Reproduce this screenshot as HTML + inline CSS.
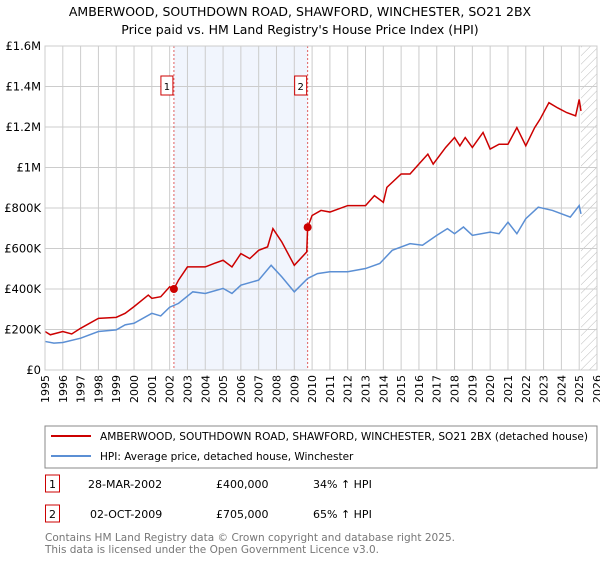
<!DOCTYPE html>
<html><head><meta charset="utf-8"><style>
body{margin:0;background:#fff;font-family:"DejaVu Sans","Liberation Sans",sans-serif;}
svg text{font-family:"DejaVu Sans","Liberation Sans",sans-serif;}
</style></head><body>
<svg id="c" width="600" height="560" xmlns="http://www.w3.org/2000/svg">
<defs><pattern id="hatch" width="6" height="6" patternUnits="userSpaceOnUse" patternTransform="rotate(45)"><line x1="0" y1="0" x2="0" y2="6" stroke="#bbb" stroke-width="1"/></pattern></defs>
<text x="300" y="16" font-size="12.5" text-anchor="middle">AMBERWOOD, SOUTHDOWN ROAD, SHAWFORD, WINCHESTER, SO21 2BX</text>
<text x="300" y="34" font-size="12.5" text-anchor="middle">Price paid vs. HM Land Registry's House Price Index (HPI)</text>
<g id="plot"></g>
<rect x="45" y="426" width="552" height="42" fill="#fff" stroke="#888"/>
<line x1="51" y1="436" x2="91" y2="436" stroke="#cc0000" stroke-width="2"/>
<text x="100" y="440" font-size="10.5" textLength="488" lengthAdjust="spacingAndGlyphs">AMBERWOOD, SOUTHDOWN ROAD, SHAWFORD, WINCHESTER, SO21 2BX (detached house)</text>
<line x1="51" y1="456" x2="91" y2="456" stroke="#5b8fd4" stroke-width="2"/>
<text x="100" y="460" font-size="10.5">HPI: Average price, detached house, Winchester</text>
<rect x="45.5" y="475" width="14" height="17" fill="#fff" stroke="#cc0000"/>
<text x="52.5" y="488" font-size="11" text-anchor="middle">1</text>
<text x="88" y="488" font-size="11">28-MAR-2002</text>
<text x="216" y="488" font-size="11">£400,000</text>
<text x="313" y="488" font-size="11">34% ↑ HPI</text>
<rect x="45.5" y="505" width="14" height="17" fill="#fff" stroke="#cc0000"/>
<text x="52.5" y="518" font-size="11" text-anchor="middle">2</text>
<text x="90" y="518" font-size="11">02-OCT-2009</text>
<text x="216" y="518" font-size="11">£705,000</text>
<text x="313" y="518" font-size="11">65% ↑ HPI</text>
<text x="45" y="541" font-size="11" fill="#777" textLength="410" lengthAdjust="spacingAndGlyphs">Contains HM Land Registry data © Crown copyright and database right 2025.</text>
<text x="45" y="553" font-size="11" fill="#777" textLength="334" lengthAdjust="spacingAndGlyphs">This data is licensed under the Open Government Licence v3.0.</text>
</svg>
<script>
const yTicks=[0,200,400,600,800,1000,1200,1400,1600];
const yTickLabels=["£0","£200K","£400K","£600K","£800K","£1M","£1.2M","£1.4M","£1.6M"];
const years=[1995,1996,1997,1998,1999,2000,2001,2002,2003,2004,2005,2006,2007,2008,2009,2010,2011,2012,2013,2014,2015,2016,2017,2018,2019,2020,2021,2022,2023,2024,2025,2026];
const hpiT=[1995.0,1995.5,1996,1997,1998,1999,1999.5,2000,2001,2001.5,2002,2002.5,2003.3,2004,2005,2005.5,2006,2007,2007.7,2008.3,2009,2009.75,2010.3,2011,2012,2013,2013.8,2014.5,2015.5,2016.2,2017,2017.6,2018,2018.5,2019,2020,2020.5,2021,2021.5,2022,2022.7,2023.5,2024.5,2025,2025.1];
const hpiV=[141,133,136,157,190,198,223,231,280,267,310,329,386,378,403,378,419,444,517,460,386,452,476,485,485,501,526,591,624,616,665,698,673,706,665,681,673,730,673,747,804,788,755,812,771];
const propT=[1995,1995.3,1996,1996.5,1997,1998,1999,1999.5,2000,2000.8,2001,2001.5,2002,2002.24,2002.5,2003,2004,2004.5,2005,2005.5,2006,2006.5,2007,2007.5,2007.8,2008.3,2009,2009.7,2009.75,2010,2010.5,2011,2012,2013,2013.5,2014,2014.2,2015,2015.5,2016,2016.5,2016.8,2017.5,2018,2018.3,2018.6,2019,2019.6,2020,2020.5,2021,2021.5,2022,2022.5,2022.8,2023.3,2023.8,2024.3,2024.8,2025,2025.1];
const propV=[190,174,190,178,206,255,260,280,313,370,354,362,411,400,444,509,509,526,542,509,575,550,591,608,698,632,517,583,705,763,788,780,812,812,861,828,902,968,968,1017,1066,1017,1099,1148,1107,1148,1099,1173,1091,1115,1115,1197,1107,1197,1238,1320,1294,1271,1255,1336,1279];
const saleT=[2002.24,2009.75];
const saleV=[400,705];
const saleLabels=["1","2"];
const X0=45,X1=597,Y0=370,Y1=46;
const xs=t=>X0+(t-1995)/31*(X1-X0);
const ys=v=>Y0-v/1600*(Y0-Y1);
const NS="http://www.w3.org/2000/svg";
const g=document.getElementById('plot');
function mk(tag,attrs,parent){const e=document.createElementNS(NS,tag);for(const k in attrs)e.setAttribute(k,attrs[k]);(parent||g).appendChild(e);return e;}
let r=mk('rect',{x:xs(saleT[0]),y:Y1,width:xs(saleT[1])-xs(saleT[0]),height:Y0-Y1,fill:'#eef3fc',opacity:0.8});


let h=mk('rect',{x:xs(2025.1),y:Y1,width:X1-xs(2025.1),height:Y0-Y1,fill:'url(#hatch)'});


years.forEach(y=>{
  let l=mk('line',{x1:xs(y),x2:xs(y),y1:Y1,y2:Y0,stroke:'#ccc','stroke-width':1});
  
  
  let t=mk('text',{x:0,y:0,'font-size':11,'text-anchor':'end',transform:`translate(${xs(y)+4},${Y0+5}) rotate(-90)`});
  t.textContent=y;
  
  
});
yTicks.forEach((v,i)=>{
  let l=mk('line',{x1:X0,x2:X1,y1:ys(v),y2:ys(v),stroke:'#ccc','stroke-width':1});
  
  
  let t=mk('text',{x:X0-4,y:ys(v)+4,'font-size':11.5,'text-anchor':'end'});
  t.textContent=yTickLabels[i];
  
  
});
saleT.forEach((t,i)=>{
  let l=mk('line',{x1:xs(t),x2:xs(t),y1:Y1,y2:Y0,stroke:'#e06060','stroke-width':1,'stroke-dasharray':'2,2'});
  
  
  let b=mk('rect',{x:xs(t)-13,y:76,width:12,height:19,fill:'#fff',stroke:'#cc0000'});
  
  
  let tx=mk('text',{x:xs(t)-7,y:90,'font-size':10,'text-anchor':'middle'});
  tx.textContent=saleLabels[i];
  
  
});
let hp=mk('polyline',{points:hpiT.map((t,i)=>xs(t)+','+ys(hpiV[i])).join(' '),fill:'none',stroke:'#5b8fd4','stroke-width':1.5});


let pp=mk('polyline',{points:propT.map((t,i)=>xs(t)+','+ys(propV[i])).join(' '),fill:'none',stroke:'#cc0000','stroke-width':1.5});


saleT.forEach((t,i)=>{
  let c=mk('circle',{cx:xs(t),cy:ys(saleV[i]),r:4,fill:'#cc0000'});
  
  
});
let ax=mk('rect',{x:X0,y:Y1,width:X1-X0,height:Y0-Y1,fill:'none',stroke:'#ccc'});


</script>
</body></html>
